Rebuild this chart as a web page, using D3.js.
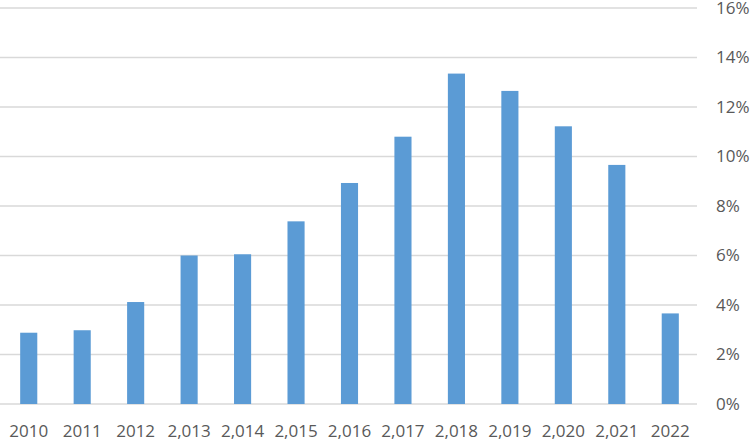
<!DOCTYPE html>
<html><head><meta charset="utf-8">
<script src="https://cdn.jsdelivr.net/npm/d3@7"></script>
<style>body{margin:0;background:#fff}svg{display:block}</style>
</head><body>
<svg id="chart" width="750" height="441"></svg>
<script>
const categories = ["2010","2011","2012","2,013","2,014","2,015","2,016","2,017","2,018","2,019","2,020","2,021","2022"];
const values = [2.88, 2.98, 4.12, 6.0, 6.05, 7.38, 8.93, 10.8, 13.35, 12.65, 11.22, 9.66, 3.66];
const yTicks = [0,2,4,6,8,10,12,14,16];

(function(){
const svg = d3.select("#chart");
const mLeft = 2, mRight = 697, mTop = 8, mBottom = 404;
const x = d3.scaleBand().domain(categories).range([mLeft, mRight]).paddingInner(0.68).paddingOuter(0.34);
const y = d3.scaleLinear().domain([0,16]).range([mBottom, mTop]);

svg.append("g").selectAll("line").data(yTicks).join("line")
  .attr("x1", 0).attr("x2", mRight)
  .attr("y1", d => y(d)).attr("y2", d => y(d))
  .attr("stroke", "#d9d9d9").attr("stroke-width", 1.5);

svg.append("g").selectAll("rect").data(values).join("rect")
  .attr("x", (d,i) => x(categories[i]))
  .attr("width", x.bandwidth())
  .attr("y", d => y(d))
  .attr("height", d => mBottom - y(d))
  .attr("fill", "#5b9bd5");

svg.append("g").selectAll("text").data(yTicks).join("text")
  .attr("x", 716).attr("y", d => y(d)).attr("dy", "0.35em")
  .attr("font-family", "Open Sans, sans-serif").attr("font-size", 17)
  .attr("fill", "#595959").text(d => d + "%");

svg.append("g").selectAll("text").data(categories).join("text")
  .attr("x", d => x(d) + x.bandwidth()/2).attr("y", 437)
  .attr("text-anchor", "middle")
  .attr("font-family", "Open Sans, sans-serif").attr("font-size", 17)
  .attr("fill", "#595959").text(d => d);
})();
</script>
</body></html>
